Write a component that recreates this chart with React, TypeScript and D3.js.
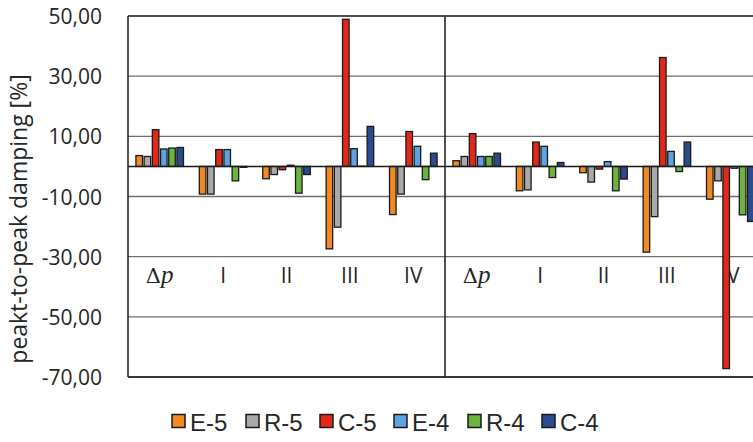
import React from 'react';
import * as d3 from 'd3';

const categories = ['Δp', 'I', 'II', 'III', 'IV', 'Δp', 'I', 'II', 'III', 'IV'];
const seriesNames = ['E-5', 'R-5', 'C-5', 'E-4', 'R-4', 'C-4'];
const seriesColors = ['#F28A24', '#A9A9A9', '#E3271B', '#5EA2DF', '#6DB33F', '#2A4C8E'];

const E5 = [3.6, -9.2, -4.1, -27.4, -16.0, 1.9, -8.1, -2.1, -28.5, -10.9];
const R5 = [3.3, -9.2, -2.7, -20.2, -9.2, 3.3, -7.8, -5.2, -16.7, -4.8];
const C5 = [12.2, 5.6, -1.1, 48.9, 11.6, 10.9, 8.1, -0.9, 36.2, -67.2];
const E4 = [5.8, 5.6, 0.4, 5.9, 6.7, 3.3, 6.7, 1.6, 5.0, -0.6];
const R4 = [6.1, -4.8, -8.9, 0.1, -4.4, 3.3, -3.7, -8.1, -1.7, -16.1];
const C4 = [6.3, -0.3, -2.7, 13.3, 4.4, 4.4, 1.3, -4.2, 8.1, -18.3];
const seriesValues = [E5, R5, C5, E4, R4, C4];

const yTicks = [-70, -50, -30, -10, 10, 30, 50];

const W = 753;
const H = 442;
const plotLeft = 128;
const plotRight = 762;
const plotTop = 16;
const plotBottom = 377;

export default function App() {
  const x = d3
    .scaleBand<number>()
    .domain(d3.range(categories.length))
    .range([plotLeft, plotRight])
    .paddingInner(0.224)
    .paddingOuter(0.112);
  const xs = d3
    .scaleBand<number>()
    .domain(d3.range(seriesNames.length))
    .range([0, x.bandwidth()])
    .paddingInner(0.2)
    .paddingOuter(0.1);
  const y = d3.scaleLinear().domain([-70, 50]).range([plotBottom, plotTop]);
  const fmt = (v: number) => d3.format('.2f')(v).replace('.', ',').replace('\u2212', '-');
  const step = x.step();
  const divider = plotLeft + step * 5;

  const legendX0 = 172;
  const legendStep = 74;
  const legendY = 421;

  return (
    <svg width={W} height={H} style={{ position: 'absolute', left: 0, top: 0 }} xmlns="http://www.w3.org/2000/svg">
      <rect x={0} y={0} width={W} height={H} fill="#ffffff" />
      {/* gridlines */}
      {yTicks.map((t) => (
        <line key={t} x1={plotLeft} x2={plotRight} y1={y(t)} y2={y(t)} stroke="#6e6e6e" strokeWidth={1.3} />
      ))}
      {/* tick labels */}
      {yTicks.map((t) => (
        <text
          key={'l' + t}
          x={102}
          y={y(t)}
          textAnchor="end"
          dominantBaseline="central"
          fontFamily="'Open Sans', sans-serif"
          fontSize={21}
          fill="#262626"
        >
          {fmt(t)}
        </text>
      ))}
      {/* axis title */}
      <text
        transform={`translate(18,219) rotate(-90)`}
        textAnchor="middle"
        dominantBaseline="central"
        fontFamily="'Open Sans', sans-serif"
        fontSize={23}
        fill="#262626"
      >
        peakt-to-peak damping [%]
      </text>
      {/* category labels */}
      {categories.map((c, i) => {
        const cx = (x(i) as number) + x.bandwidth() / 2;
        if (c === 'Δp') {
          return (
            <text key={'c' + i} x={cx} y={283} textAnchor="middle" fontFamily="'DejaVu Serif', serif" fontSize={21} fill="#262626">
              <tspan>Δ</tspan>
              <tspan fontStyle="italic" fontFamily="'Liberation Serif', serif" fontSize={25}>p</tspan>
            </text>
          );
        }
        return (
          <text key={'c' + i} x={cx} y={283} textAnchor="middle" fontFamily="'Open Sans', sans-serif" fontSize={21} fill="#262626">
            {c}
          </text>
        );
      })}
      {/* bars */}
      {seriesValues.map((vals, s) =>
        vals.map((v, i) => {
          const bx = (x(i) as number) + (xs(s) as number);
          const y0 = y(0);
          const y1 = y(v);
          return (
            <rect
              key={`b${s}-${i}`}
              x={bx}
              y={Math.min(y0, y1)}
              width={xs.bandwidth()}
              height={Math.abs(y1 - y0)}
              fill={seriesColors[s]}
              stroke="#1a1a1a"
              strokeWidth={1.3}
            />
          );
        })
      )}
      {/* zero axis */}
      <line x1={plotLeft} x2={plotRight} y1={y(0)} y2={y(0)} stroke="#1a1a1a" strokeWidth={1.5} />
      {/* borders */}
      <line x1={plotLeft} x2={plotLeft} y1={plotTop} y2={plotBottom} stroke="#1a1a1a" strokeWidth={1.5} />
      <line x1={divider} x2={divider} y1={plotTop} y2={plotBottom} stroke="#1a1a1a" strokeWidth={1.5} />
      <line x1={plotLeft} x2={plotRight} y1={plotBottom} y2={plotBottom} stroke="#1a1a1a" strokeWidth={1.5} />
      <line x1={plotLeft} x2={plotRight} y1={plotTop} y2={plotTop} stroke="#3a3a3a" strokeWidth={1.5} />
      {/* legend */}
      {seriesNames.map((n, s) => {
        const lx = legendX0 + s * legendStep;
        return (
          <g key={'lg' + s}>
            <rect x={lx} y={legendY - 6.5} width={13} height={13} fill={seriesColors[s]} stroke="#1a1a1a" strokeWidth={1.5} />
            <text
              x={lx + 18}
              y={legendY + 1}
              dominantBaseline="central"
              fontFamily="'Liberation Sans', Arial, sans-serif"
              fontSize={24}
              fill="#262626"
            >
              {n}
            </text>
          </g>
        );
      })}
    </svg>
  );
}
